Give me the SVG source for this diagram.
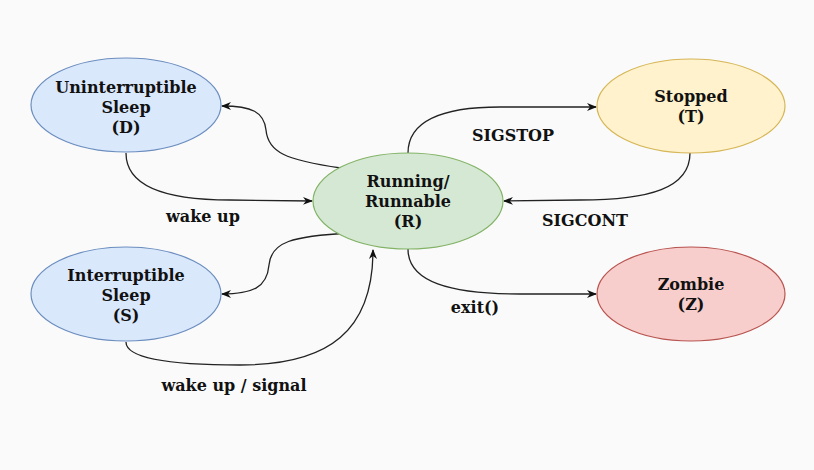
<svg xmlns="http://www.w3.org/2000/svg" width="814" height="470" viewBox="0 0 814 470">
<defs>
<marker id="arr" viewBox="0 0 10 10" refX="9" refY="5" markerWidth="10" markerHeight="10" markerUnits="userSpaceOnUse" orient="auto">
<path d="M0,1 L10,5 L0,9 L3,5 Z" fill="#111"/>
</marker>
<style>
.t{font-family:"DejaVu Serif","Liberation Serif",serif;font-weight:bold;font-size:16px;fill:#111;text-anchor:middle}
.e{fill:none;stroke:#222;stroke-width:1.3;marker-end:url(#arr)}
</style>
</defs>
<rect width="814" height="470" fill="#fafafa"/>
<g id="connectors">
<path class="e" d="M341,168 C285,160 268,152 266,130 C264,112 252,106 222,106"/>
<path class="e" d="M126,153 C126,188 170,200 230,200 L312,201"/>
<path class="e" d="M350,233 C292,236 271,242 269,265 C267,288 252,294 222,294"/>
<path class="e" d="M126,342 C126,362 190,365 240,365 C330,365 373,330 373,250"/>
<path class="e" d="M408,153 C408,122 440,107 500,107 L596,107"/>
<path class="e" d="M690,153 C690,188 650,200 580,200 L504,201"/>
<path class="e" d="M408,249 C408,282 450,294 520,294 L596,294"/>
<text class="t" x="203" y="222">wake up</text>
<text class="t" x="234" y="391">wake up / signal</text>
<text class="t" x="513" y="141">SIGSTOP</text>
<text class="t" x="585" y="226">SIGCONT</text>
<text class="t" x="475" y="313">exit()</text>
</g>
<g id="node-D">
<ellipse cx="126" cy="105" rx="95" ry="47" fill="#dae8fc" stroke="#6c8ebf" stroke-width="1.2"/>
<text class="t" x="126" y="93">Uninterruptible</text>
<text class="t" x="126" y="113">Sleep</text>
<text class="t" x="126" y="133">(D)</text>
</g>
<g id="node-S">
<ellipse cx="126" cy="294" rx="95" ry="47" fill="#dae8fc" stroke="#6c8ebf" stroke-width="1.2"/>
<text class="t" x="126" y="281">Interruptible</text>
<text class="t" x="126" y="301">Sleep</text>
<text class="t" x="126" y="321">(S)</text>
</g>
<g id="node-R">
<ellipse cx="408" cy="201" rx="95" ry="48" fill="#d5e8d4" stroke="#82b366" stroke-width="1.2"/>
<text class="t" x="408" y="187">Running/</text>
<text class="t" x="408" y="207">Runnable</text>
<text class="t" x="408" y="227">(R)</text>
</g>
<g id="node-T">
<ellipse cx="691" cy="106" rx="94" ry="47" fill="#fff2cc" stroke="#d6b656" stroke-width="1.2"/>
<text class="t" x="691" y="102">Stopped</text>
<text class="t" x="691" y="122">(T)</text>
</g>
<g id="node-Z">
<ellipse cx="691" cy="294" rx="94" ry="47" fill="#f8cecc" stroke="#b85450" stroke-width="1.2"/>
<text class="t" x="691" y="290">Zombie</text>
<text class="t" x="691" y="310">(Z)</text>
</g>
</svg>
